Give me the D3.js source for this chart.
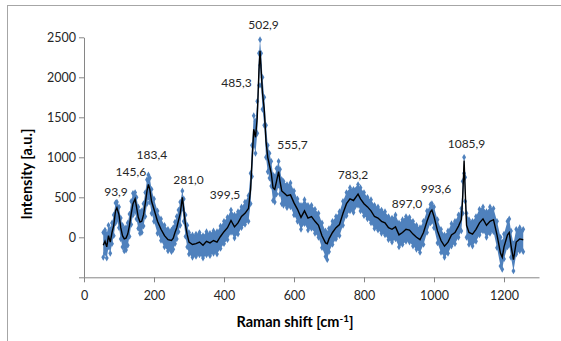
<!DOCTYPE html>
<html>
<head>
<meta charset="utf-8">
<script src="https://cdn.jsdelivr.net/npm/d3@7"></script>
<style>
  html, body { margin: 0; padding: 0; background: #fff; }
  svg { display: block; }
  text { font-family: Lato, "Open Sans", sans-serif; }
</style>
</head>
<body>
<svg id="chart" width="561" height="341"></svg>
<script>
// ---- data ----
const shift = [
  55,60,65,70,75,80,85,90,94,100,
  105,110,115,120,125,130,135,140,146,150,
  155,160,165,170,175,180,184,188,193,200,
  210,220,230,240,250,255,260,265,270,275,
  281,285,290,295,300,310,320,330,340,350,
  360,370,380,390,400,410,420,430,440,450,
  460,470,476,480,485,490,495,500,503,506,
  510,515,520,525,530,535,540,545,550,556,
  560,565,570,580,590,600,610,620,630,640,
  650,660,670,680,690,695,700,710,720,730,
  740,750,760,770,783,790,800,810,820,830,
  840,850,860,870,880,890,900,910,920,930,
  940,950,960,970,980,990,994,1000,1010,1020,
  1030,1040,1050,1060,1070,1078,1082,1086,1089,1093,
  1100,1110,1120,1130,1140,1150,1160,1170,1180,1190,
  1195,1200,1210,1215,1220,1227,1235,1245,1255
];
const smooth = [
  -100,-50,-120,20,-60,60,150,330,370,280,
  120,20,-20,-10,40,150,300,420,480,380,
  250,190,200,280,420,580,660,600,450,350,
  200,100,20,-30,-40,-10,60,120,210,300,
  500,350,150,30,-60,-90,-80,-60,-100,-50,
  -70,-40,-60,10,70,120,210,130,180,260,
  300,360,600,950,1350,1250,1500,2100,2330,2100,
  1800,1600,1200,1000,900,800,620,600,700,820,
  700,580,560,520,530,430,350,250,330,240,
  260,200,150,20,-70,-80,-20,60,120,160,
  300,420,480,460,540,480,420,380,330,260,
  240,200,180,120,100,130,30,60,100,90,
  40,0,-30,60,200,320,340,260,80,-40,
  -110,-60,30,60,140,220,500,960,600,150,
  60,40,100,180,230,150,200,220,30,-200,
  -250,-120,30,60,-100,-280,-60,-20,-30
];
const upper = [
  60,90,40,150,100,180,280,430,440,380,
  240,150,110,120,180,290,450,550,560,500,
  380,320,330,420,560,720,780,740,600,480,
  330,230,150,100,90,120,190,260,340,440,
  580,480,280,150,60,30,40,60,20,70,
  50,80,70,140,200,250,340,280,320,380,
  440,520,800,1150,1520,1450,1700,2300,2470,2300,
  2000,1750,1400,1150,1050,950,780,760,860,950,
  850,720,700,660,680,580,480,400,470,400,
  400,350,300,180,80,50,110,200,260,320,
  450,560,620,600,660,620,560,500,470,400,
  380,340,320,260,240,280,180,220,260,250,
  200,150,120,200,330,410,420,380,220,100,
  30,80,170,200,280,360,700,1000,750,300,
  220,200,260,350,380,320,380,360,200,0,
  -60,40,200,230,80,-80,100,120,100
];
const lower = [
  -250,-200,-260,-120,-200,-80,20,180,220,120,
  -20,-120,-170,-160,-100,10,160,280,320,230,
  110,50,60,140,260,420,500,440,300,200,
  50,-40,-120,-170,-180,-150,-80,-20,70,150,
  360,200,10,-120,-210,-250,-240,-220,-260,-220,
  -230,-200,-210,-140,-80,-30,60,-10,40,120,
  160,200,420,760,1150,1050,1300,1900,2150,1900,
  1600,1400,1000,820,740,640,460,440,540,650,
  540,420,400,370,380,280,200,100,170,90,
  110,50,0,-130,-240,-280,-180,-90,-20,20,
  150,270,330,310,400,330,270,230,180,110,
  90,50,30,-30,-60,-20,-120,-90,-50,-60,
  -110,-150,-190,-90,60,180,200,120,-70,-190,
  -250,-200,-110,-80,0,80,300,800,450,0,
  -90,-110,-50,30,80,0,50,70,-130,-360,
  -400,-270,-120,-90,-250,-420,-210,-170,-180
];
const peakLabels = ["93,9","145,6","183,4","281,0","399,5","485,3","502,9","555,7","783,2","897,0","993,6","1085,9"];
const labelShift = [91.4,134,194,298.6,403,435.7,512.9,595.7,768.6,922.9,1005.7,1092.9];
const labelInt   = [516,766,979,666,479,1879,2604,1104,729,366,554,1116];
const xTicks = [0,200,400,600,800,1000,1200];
const yTicks = [-500,0,500,1000,1500,2000,2500];

// ---- drawing ----
const svg = d3.select("#chart");
const x = d3.scaleLinear().domain([0,1300]).range([84,539]);
const y = d3.scaleLinear().domain([-500,2500]).range([277.3,37.3]);

// chart frame
svg.append("rect").attr("x",7.5).attr("y",5.5).attr("width",620).attr("height",400)
  .attr("fill","none").attr("stroke","#a6a6a6").attr("stroke-width",1);

const pts = shift.map((s,i)=>({s, m: smooth[i], u: upper[i], l: lower[i]}));
const blue = "#4f81bd";

// scatter band
svg.append("path").datum(pts)
  .attr("d", d3.area().x(d=>x(d.s)).y0(d=>y(d.l)).y1(d=>y(d.u)))
  .attr("fill", blue);

const sym = d3.symbol().type(d3.symbolDiamond).size(13);
const markers = svg.append("g").attr("fill", blue);
pts.forEach(d => {
  [d.u, d.l].forEach(v => {
    markers.append("path").attr("d", sym)
      .attr("transform", `translate(${x(d.s)},${y(v)})`);
  });
});

// smoothed line
svg.append("path").datum(pts)
  .attr("d", d3.line().x(d=>x(d.s)).y(d=>y(d.m)))
  .attr("fill","none").attr("stroke","#000").attr("stroke-width",1.4);

// axes
const axisColor = "#868686";
const yAxis = svg.append("g").attr("transform",`translate(${x(0)},0)`)
  .call(d3.axisLeft(y).tickValues(yTicks).tickSize(5).tickSizeOuter(0)
    .tickFormat(d => d < 0 ? "" : String(d)));
const xAxis = svg.append("g").attr("transform",`translate(0,${y(-500)})`)
  .call(d3.axisBottom(x).tickValues(xTicks).tickSize(5).tickSizeOuter(0)
    .tickFormat(d => String(d)));
[yAxis, xAxis].forEach(g => {
  g.selectAll(".domain").attr("stroke", axisColor);
  g.selectAll(".tick line").attr("stroke", axisColor);
  g.selectAll(".tick text").attr("fill","#262626")
    .style("font-family","Lato, sans-serif").style("font-size","12.5px");
});
yAxis.selectAll(".tick text").attr("x",-8);
xAxis.selectAll(".tick text").attr("y",14);

// peak labels
svg.append("g").selectAll("text").data(peakLabels).join("text")
  .attr("x",(d,i)=>x(labelShift[i]))
  .attr("y",(d,i)=>y(labelInt[i]))
  .attr("text-anchor","middle")
  .attr("fill","#262626")
  .style("font-size","12px")
  .text(d=>d);

// axis titles
svg.append("text")
  .attr("transform","translate(32,174) rotate(-90)")
  .attr("text-anchor","middle")
  .style("font-size","14.5px").style("font-weight","bold")
  .attr("fill","#000")
  .text("Intensity [a.u.]");

const xt = svg.append("text")
  .attr("x",295).attr("y",327)
  .attr("text-anchor","middle")
  .style("font-size","14.5px").style("font-weight","bold")
  .attr("fill","#000");
xt.append("tspan").text("Raman shift [cm");
xt.append("tspan").attr("dy",-5).style("font-size","10px").text("-1");
xt.append("tspan").attr("dy",5).text("]");
</script>
</body>
</html>
